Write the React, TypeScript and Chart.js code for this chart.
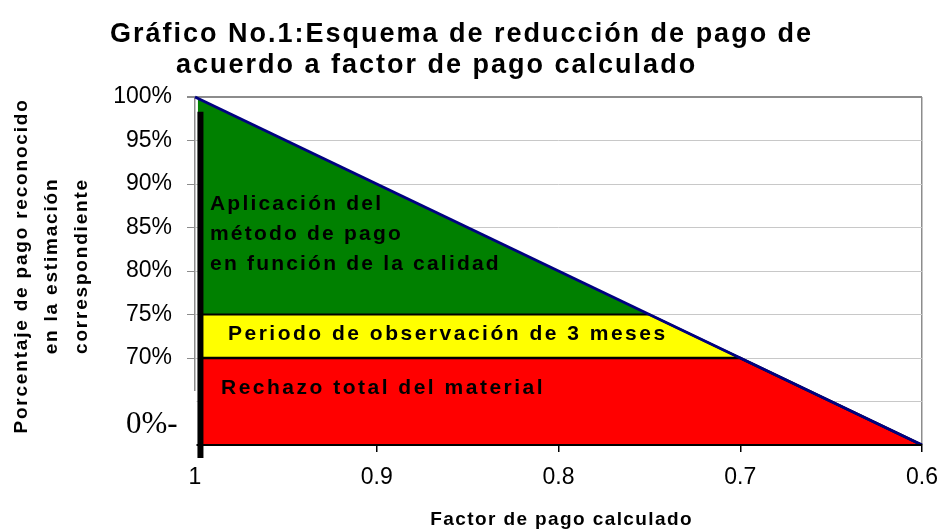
import React, { useEffect, useRef } from "react";
import { Chart, registerables } from "chart.js";

Chart.register(...registerables);

// ---- texts ----
const TITLE_LINES = ["Gráfico No.1:Esquema de reducción de pago de", "acuerdo a factor de pago calculado"];
const Y_TITLE_LINES = ["Porcentaje de pago reconocido", "en la estimación", "correspondiente"];
const X_TITLE = "Factor de pago calculado";
const GREEN_LABEL = ["Aplicación del", "método de pago", "en función de la calidad"];
const YELLOW_LABEL = "Periodo de observación de 3 meses";
const RED_LABEL = "Rechazo total del material";
const COVER_LABEL = "0%-";

// ---- axes ----
const X_MIN = 0.6;
const X_MAX = 1;
const X_STEP = 0.1;
const Y_MIN = 60;
const Y_MAX = 100;
const Y_STEP = 5;

// ---- data (factor de pago -> % reconocido) ----
const diagX = [1, 0.6];
const diagY = [100, 60];

const greenX = [0.9985, 0.75];
const greenY = [99.85, 75];

const yellowX = [0.997, 0.75, 0.7];
const yellowY = [75, 75, 70];

const redX = [0.997, 0.7, 0.6];
const redY = [70, 70, 60];

const barX = [0.997, 0.997];
const barY = [98.3, 58.5];

const pts = (xs: number[], ys: number[]) => xs.map((x, i) => ({ x, y: ys[i] }));

const FONT = '"Liberation Sans", Arial, sans-serif';

const textPlugin = {
  id: "textPlugin",
  afterDraw(chart: any) {
    const ctx = chart.ctx as CanvasRenderingContext2D;
    ctx.save();
    // cover of lower y labels
    ctx.fillStyle = "#ffffff";
    ctx.fillRect(100, 391, 96.5, 68);
    ctx.fillStyle = "#000";
    ctx.font = '31px "Liberation Serif", "Times New Roman", serif';
    ctx.textAlign = "left";
    ctx.textBaseline = "alphabetic";
    (ctx as any).letterSpacing = "0px";
    ctx.fillText(COVER_LABEL, 126, 433);

    // title
    ctx.font = "bold 27px " + FONT;
    (ctx as any).letterSpacing = "2px";
    ctx.fillText(TITLE_LINES[0], 110, 42);
    ctx.fillText(TITLE_LINES[1], 176, 73);

    // region labels
    ctx.font = "bold 21px " + FONT;
    (ctx as any).letterSpacing = "2.2px";
    ctx.fillText(GREEN_LABEL[0], 210, 210);
    ctx.fillText(GREEN_LABEL[1], 210, 240);
    ctx.fillText(GREEN_LABEL[2], 210, 270);
    (ctx as any).letterSpacing = "2.5px";
    ctx.fillText(YELLOW_LABEL, 228, 340);
    ctx.fillText(RED_LABEL, 221, 394);

    // x title
    ctx.font = "bold 19px " + FONT;
    (ctx as any).letterSpacing = "1.4px";
    ctx.textAlign = "right";
    ctx.fillText(X_TITLE, 693, 525);

    // y title
    ctx.font = "bold 19px " + FONT;
    (ctx as any).letterSpacing = "1.8px";
    ctx.textAlign = "center";
    ctx.textBaseline = "middle";
    const cols = [22, 52, 82];
    Y_TITLE_LINES.forEach((t, i) => {
      ctx.save();
      ctx.translate(cols[i], 266);
      ctx.rotate(-Math.PI / 2);
      ctx.fillText(t, 0, 0);
      ctx.restore();
    });
    ctx.restore();
  },
};

export default function App() {
  const ref = useRef<HTMLCanvasElement | null>(null);
  useEffect(() => {
    if (!ref.current) return;
    const chart = new Chart(ref.current, {
      type: "line",
      data: {
        datasets: [
          {
            data: pts(barX, barY),
            borderColor: "#000000",
            borderWidth: 6,
            pointRadius: 0,
            fill: false,
            clip: false as any,
          },
          {
            data: pts(diagX, diagY),
            borderColor: "#000080",
            borderWidth: 3,
            pointRadius: 0,
            fill: false,
            clip: false as any,
          },
          {
            data: pts(redX, redY),
            borderColor: "#000000",
            borderWidth: 2.5,
            backgroundColor: "#ff0000",
            pointRadius: 0,
            fill: { value: Y_MIN } as any,
          },
          {
            data: pts(yellowX, yellowY),
            borderColor: "#000000",
            borderWidth: 2,
            backgroundColor: "#ffff00",
            pointRadius: 0,
            fill: { value: 70 } as any,
          },
          {
            data: pts(greenX, greenY),
            borderColor: "#000080",
            borderWidth: 0,
            backgroundColor: "#008000",
            pointRadius: 0,
            fill: { value: 75 } as any,
          },
        ],
      },
      options: {
        animation: false,
        responsive: false,
        maintainAspectRatio: false,
        layout: { padding: { left: 0, top: 97, right: 18, bottom: 0 } },
        plugins: { legend: { display: false }, title: { display: false }, tooltip: { enabled: false } },
        scales: {
          x: {
            type: "linear",
            reverse: true,
            min: X_MIN,
            max: X_MAX,
            afterFit: (s: any) => {
              s.height = 84;
              s.paddingLeft = 0;
              s.paddingRight = 0;
            },
            ticks: {
              stepSize: X_STEP,
              padding: 12,
              color: "#000",
              font: { family: FONT, size: 23 },
              callback: (v: any) => String(Math.round(Number(v) * 10) / 10),
            },
            grid: {
              color: (c: any) => (c.tick && Math.abs(c.tick.value - X_MIN) < 1e-6 ? "#8c8c8c" : "rgba(0,0,0,0)"),
              tickColor: "#000",
              tickLength: 7,
              lineWidth: 1.5,
            },
            border: { display: true, color: "#000", width: 2, z: 1 },
          },
          y: {
            type: "linear",
            min: Y_MIN,
            max: Y_MAX,
            afterFit: (s: any) => {
              s.width = 195;
              s.paddingTop = 0;
              s.paddingBottom = 0;
            },
            ticks: {
              stepSize: Y_STEP,
              padding: 15,
              color: "#000",
              font: { family: FONT, size: 23 },
              callback: (v: any) => v + "%",
            },
            grid: {
              color: (c: any) => (c.tick && c.tick.value === Y_MAX ? "#8c8c8c" : "#c8c8c8"),
              tickColor: "#8c8c8c",
              tickLength: 8,
              lineWidth: (c: any) => (c.tick && c.tick.value === Y_MAX ? 2 : 1),
            },
            border: { display: true, color: "#8c8c8c", width: 1.5 },
          },
        },
      },
      plugins: [textPlugin],
    });
    return () => chart.destroy();
  }, []);
  return (
    <div style={{ position: "fixed", left: 0, top: 0, width: 940, height: 529, background: "#fff" }}>
      <canvas ref={ref} width={940} height={529} style={{ width: 940, height: 529 }} />
    </div>
  );
}
